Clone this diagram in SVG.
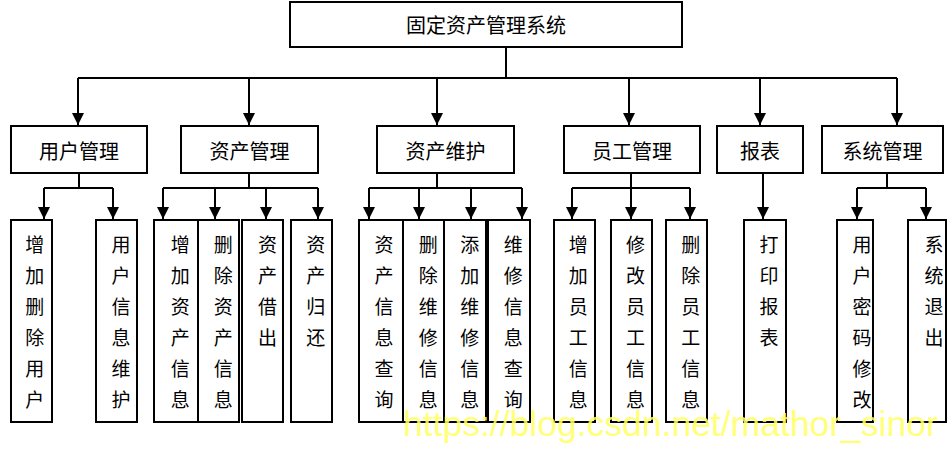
<svg xmlns="http://www.w3.org/2000/svg" width="952" height="454" viewBox="0 0 952 454">
<style>
.box{fill:#fff;stroke:#000;stroke-width:2}
.ln{fill:none;stroke:#000;stroke-width:2}
.ar{fill:none;stroke:#000;stroke-width:2;marker-end:url(#ah)}
.t{font-family:"Noto Sans CJK SC","Noto Sans",sans-serif;font-size:20px;fill:#000;text-anchor:middle;dominant-baseline:central}
.v{font-family:"Noto Sans CJK SC","Noto Sans",sans-serif;font-size:19px;fill:#000;text-anchor:middle;dominant-baseline:central}
.wm{font-family:"Liberation Sans",Arial,sans-serif;font-size:35.5px;fill:#ffff66;fill-opacity:0.9}
</style>
<defs>
<marker id="ah" markerUnits="userSpaceOnUse" markerWidth="12" markerHeight="12" refX="12" refY="6" orient="auto" viewBox="0 0 12 12">
<path d="M0,0 L12,6 L0,12 z" fill="#000"/>
</marker>
</defs>
<g id="connectors">
<path class="ln" d="M506,47 V78 M78,78 H897"/>
<path class="ar" d="M78,78 V125"/>
<path class="ar" d="M249,78 V125"/>
<path class="ar" d="M437,78 V125"/>
<path class="ar" d="M629,78 V125"/>
<path class="ar" d="M760,78 V125"/>
<path class="ar" d="M897,78 V125"/>
<path class="ln" d="M79,173 V188 M44,188 H113"/>
<path class="ar" d="M44,188 V219"/>
<path class="ar" d="M113,188 V219"/>
<path class="ln" d="M249,173 V188 M163,188 H318"/>
<path class="ar" d="M163,188 V219"/>
<path class="ar" d="M215,188 V219"/>
<path class="ar" d="M266,188 V219"/>
<path class="ar" d="M318,188 V219"/>
<path class="ln" d="M437,173 V188 M369,188 H522"/>
<path class="ar" d="M369,188 V219"/>
<path class="ar" d="M419,188 V219"/>
<path class="ar" d="M471,188 V219"/>
<path class="ar" d="M522,188 V219"/>
<path class="ln" d="M572,188 H690"/>
<path class="ar" d="M631,173 V219"/>
<path class="ar" d="M572,188 V219"/>
<path class="ar" d="M690,188 V219"/>
<path class="ar" d="M763,173 V219"/>
<path class="ln" d="M887,173 V188 M857,188 H926"/>
<path class="ar" d="M857,188 V219"/>
<path class="ar" d="M926,188 V219"/>
</g>
<g id="root"><rect class="box" x="290" y="2" width="392" height="45"/><text class="t" x="486" y="24">固定资产管理系统</text></g>
<g id="yhgl"><rect class="box" x="11" y="126" width="136" height="47"/><text class="t" x="79" y="150">用户管理</text></g>
<g id="zcgl"><rect class="box" x="181" y="126" width="137" height="47"/><text class="t" x="249.5" y="150">资产管理</text></g>
<g id="zcwh"><rect class="box" x="377" y="126" width="137" height="47"/><text class="t" x="445.5" y="150">资产维护</text></g>
<g id="yggl"><rect class="box" x="564" y="126" width="136" height="47"/><text class="t" x="632" y="150">员工管理</text></g>
<g id="bb"><rect class="box" x="717" y="126" width="86" height="47"/><text class="t" x="760" y="150">报表</text></g>
<g id="xtgl"><rect class="box" x="822" y="126" width="121" height="47"/><text class="t" x="882.5" y="150">系统管理</text></g>

<g id="a1"><rect class="box" x="11" y="220" width="41" height="202"/><text class="v"><tspan x="34.7" y="242.5">增</tspan><tspan x="34.7" dy="31">加</tspan><tspan x="34.7" dy="31">删</tspan><tspan x="34.7" dy="31">除</tspan><tspan x="34.7" dy="31">用</tspan><tspan x="34.7" dy="31">户</tspan></text></g>
<g id="a2"><rect class="box" x="96" y="220" width="41" height="202"/><text class="v"><tspan x="121" y="242.5">用</tspan><tspan x="121" dy="31">户</tspan><tspan x="121" dy="31">信</tspan><tspan x="121" dy="31">息</tspan><tspan x="121" dy="31">维</tspan><tspan x="121" dy="31">护</tspan></text></g>
<g id="b1"><rect class="box" x="154" y="220" width="44" height="202"/><text class="v"><tspan x="180.3" y="242.5">增</tspan><tspan x="180.3" dy="31">加</tspan><tspan x="180.3" dy="31">资</tspan><tspan x="180.3" dy="31">产</tspan><tspan x="180.3" dy="31">信</tspan><tspan x="180.3" dy="31">息</tspan></text></g>
<g id="b2"><rect class="box" x="198" y="220" width="41" height="202"/><text class="v"><tspan x="223.3" y="242.5">删</tspan><tspan x="223.3" dy="31">除</tspan><tspan x="223.3" dy="31">资</tspan><tspan x="223.3" dy="31">产</tspan><tspan x="223.3" dy="31">信</tspan><tspan x="223.3" dy="31">息</tspan></text></g>
<g id="b3"><rect class="box" x="242" y="220" width="41" height="202"/><text class="v"><tspan x="267.5" y="242.5">资</tspan><tspan x="267.5" dy="31">产</tspan><tspan x="267.5" dy="31">借</tspan><tspan x="267.5" dy="31">出</tspan></text></g>
<g id="b4"><rect class="box" x="291" y="220" width="41" height="202"/><text class="v"><tspan x="315.8" y="242.5">资</tspan><tspan x="315.8" dy="31">产</tspan><tspan x="315.8" dy="31">归</tspan><tspan x="315.8" dy="31">还</tspan></text></g>
<g id="c1"><rect class="box" x="359" y="220" width="44" height="202"/><text class="v"><tspan x="384" y="242.5">资</tspan><tspan x="384" dy="31">产</tspan><tspan x="384" dy="31">信</tspan><tspan x="384" dy="31">息</tspan><tspan x="384" dy="31">查</tspan><tspan x="384" dy="31">询</tspan></text></g>
<g id="c2"><rect class="box" x="403" y="220" width="41" height="202"/><text class="v"><tspan x="428.3" y="242.5">删</tspan><tspan x="428.3" dy="31">除</tspan><tspan x="428.3" dy="31">维</tspan><tspan x="428.3" dy="31">修</tspan><tspan x="428.3" dy="31">信</tspan><tspan x="428.3" dy="31">息</tspan></text></g>
<g id="c3"><rect class="box" x="444" y="220" width="42" height="202"/><text class="v"><tspan x="469.7" y="242.5">添</tspan><tspan x="469.7" dy="31">加</tspan><tspan x="469.7" dy="31">维</tspan><tspan x="469.7" dy="31">修</tspan><tspan x="469.7" dy="31">信</tspan><tspan x="469.7" dy="31">息</tspan></text></g>
<g id="c4"><rect class="box" x="488" y="220" width="42" height="202"/><text class="v"><tspan x="513.3" y="242.5">维</tspan><tspan x="513.3" dy="31">修</tspan><tspan x="513.3" dy="31">信</tspan><tspan x="513.3" dy="31">息</tspan><tspan x="513.3" dy="31">查</tspan><tspan x="513.3" dy="31">询</tspan></text></g>
<g id="d1"><rect class="box" x="554" y="220" width="41" height="202"/><text class="v"><tspan x="578.3" y="242.5">增</tspan><tspan x="578.3" dy="31">加</tspan><tspan x="578.3" dy="31">员</tspan><tspan x="578.3" dy="31">工</tspan><tspan x="578.3" dy="31">信</tspan><tspan x="578.3" dy="31">息</tspan></text></g>
<g id="d2"><rect class="box" x="611" y="220" width="41" height="202"/><text class="v"><tspan x="635.5" y="242.5">修</tspan><tspan x="635.5" dy="31">改</tspan><tspan x="635.5" dy="31">员</tspan><tspan x="635.5" dy="31">工</tspan><tspan x="635.5" dy="31">信</tspan><tspan x="635.5" dy="31">息</tspan></text></g>
<g id="d3"><rect class="box" x="666" y="220" width="41" height="202"/><text class="v"><tspan x="690.8" y="242.5">删</tspan><tspan x="690.8" dy="31">除</tspan><tspan x="690.8" dy="31">员</tspan><tspan x="690.8" dy="31">工</tspan><tspan x="690.8" dy="31">信</tspan><tspan x="690.8" dy="31">息</tspan></text></g>
<g id="e1"><rect class="box" x="744" y="220" width="42" height="202"/><text class="v"><tspan x="769" y="242.5">打</tspan><tspan x="769" dy="31">印</tspan><tspan x="769" dy="31">报</tspan><tspan x="769" dy="31">表</tspan></text></g>
<g id="f1"><rect class="box" x="837" y="220" width="36" height="202"/><text class="v"><tspan x="862" y="242.5">用</tspan><tspan x="862" dy="31">户</tspan><tspan x="862" dy="31">密</tspan><tspan x="862" dy="31">码</tspan><tspan x="862" dy="31">修</tspan><tspan x="862" dy="31">改</tspan></text></g>
<g id="f2"><rect class="box" x="908" y="220" width="38" height="202"/><text class="v"><tspan x="934" y="242.5">系</tspan><tspan x="934" dy="31">统</tspan><tspan x="934" dy="31">退</tspan><tspan x="934" dy="31">出</tspan></text></g>

<text class="wm" x="403" y="436">https://blog.csdn.net/mathor_sinor</text>
</svg>
